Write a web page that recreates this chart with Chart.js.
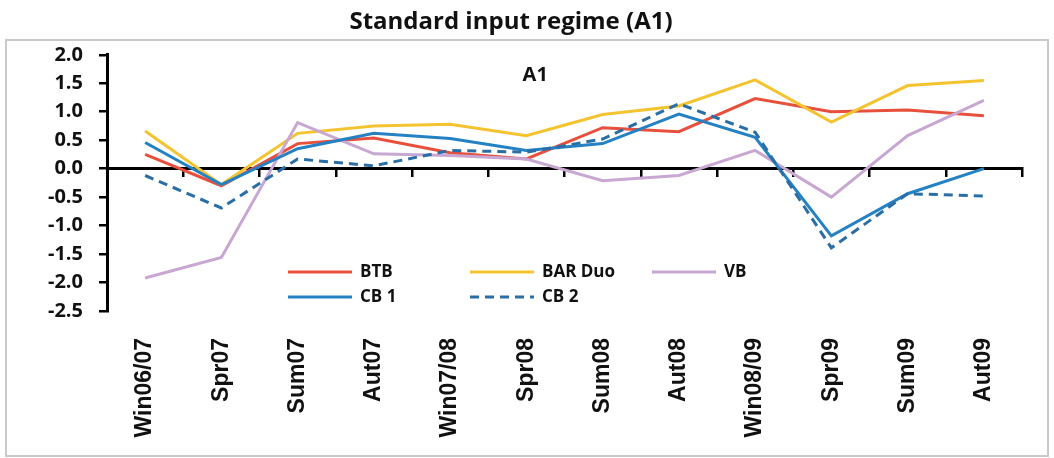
<!DOCTYPE html>
<html>
<head>
<meta charset="utf-8">
<script src="https://cdn.jsdelivr.net/npm/chart.js@4.4.1/dist/chart.umd.min.js"></script>
<style>
  html, body { margin: 0; padding: 0; background: #fff; }
  #wrap { position: relative; width: 1054px; height: 458px; }
  #frame { position: absolute; left: 5px; top: 39px; width: 1040px; height: 414px; border: 2px solid #c9c9c9; }
  canvas { position: absolute; left: 0; top: 0; }
</style>
</head>
<body>
<div id="wrap">
  <div id="frame"></div>
  <canvas id="chart" width="1054" height="458"></canvas>
</div>
<script>
const seasons = ["Win06/07", "Spr07", "Sum07", "Aut07", "Win07/08", "Spr08", "Sum08", "Aut08", "Win08/09", "Spr09", "Sum09", "Aut09"];
const yTicks = [2.0, 1.5, 1.0, 0.5, 0.0, -0.5, -1.0, -1.5, -2.0, -2.5];

const btb    = [0.25, -0.30, 0.44, 0.54, 0.28, 0.17, 0.72, 0.65, 1.23, 1.00, 1.03, 0.93];
const barDuo = [0.66, -0.28, 0.62, 0.75, 0.78, 0.58, 0.95, 1.10, 1.56, 0.82, 1.46, 1.55];
const vb     = [-1.92, -1.56, 0.81, 0.26, 0.23, 0.17, -0.21, -0.12, 0.32, -0.50, 0.58, 1.20];
const cb1    = [0.46, -0.28, 0.35, 0.62, 0.53, 0.32, 0.44, 0.96, 0.55, -1.18, -0.44, 0.0];
const cb2    = [-0.12, -0.69, 0.17, 0.05, 0.32, 0.29, 0.52, 1.14, 0.64, -1.39, -0.44, -0.48];

const insideText = {
  id: "insideText",
  afterDatasetsDraw(chart) {
    const ctx = chart.ctx;
    const a = chart.chartArea;
    ctx.save();
    // panel label
    ctx.font = 'bold 20px "Open Sans"';
    ctx.fillStyle = "#111";
    ctx.textAlign = "center";
    ctx.textBaseline = "middle";
    ctx.fillText("A1", a.left + (a.right - a.left) * 0.468, a.top + 20);
    // legend, 3 per row
    ctx.font = 'bold 17px "Open Sans"';
    ctx.textAlign = "left";
    chart.data.datasets.forEach((ds, i) => {
      const x = 288 + (i % 3) * 182;
      const y = 272 + Math.floor(i / 3) * 25;
      ctx.strokeStyle = ds.borderColor;
      ctx.lineWidth = 3;
      ctx.setLineDash(ds.borderDash || []);
      ctx.beginPath();
      ctx.moveTo(x, y);
      ctx.lineTo(x + 64, y);
      ctx.stroke();
      ctx.setLineDash([]);
      ctx.fillText(ds.label, x + 72, y);
    });
    ctx.restore();
  }
};

function line(label, data, color, order, dash) {
  return {
    label: label,
    data: data,
    borderColor: color,
    backgroundColor: color,
    borderWidth: 3,
    borderDash: dash || [],
    pointRadius: 0,
    tension: 0,
    order: order,
    xAxisID: "x",
    yAxisID: "y"
  };
}

function draw() {
  new Chart(document.getElementById("chart").getContext("2d"), {
    type: "line",
    data: {
      labels: seasons,
      datasets: [
        line("BTB", btb, "#e8503e", 5),
        line("BAR Duo", barDuo, "#f4c430", 4),
        line("VB", vb, "#c8a8d2", 3),
        line("CB 1", cb1, "#2481c3", 2),
        line("CB 2", cb2, "#2a6ea6", 1, [9, 6])
      ]
    },
    options: {
      responsive: false,
      animation: false,
      layout: { padding: { left: 0, right: 32, top: 0, bottom: 0 } },
      plugins: {
        legend: { display: false },
        tooltip: { enabled: false },
        title: {
          display: true,
          text: "Standard input regime (A1)",
          color: "#111",
          font: { family: "Open Sans", size: 24, weight: "bold" },
          padding: { top: 8, bottom: 18 }
        }
      },
      scales: {
        x: {
          type: "category",
          position: { y: 0 },
          offset: true,
          border: { display: true, color: "#000", width: 3 },
          grid: { offset: true, drawOnChartArea: false, drawTicks: true, tickLength: 7, color: "#000", lineWidth: 2.5 },
          ticks: { display: false }
        },
        x2: {
          type: "category",
          axis: "x",
          position: "bottom",
          labels: seasons,
          offset: true,
          border: { display: false },
          grid: { display: false, drawTicks: false },
          ticks: {
            color: "#111",
            font: { family: "Liberation Sans", size: 23, weight: "bold" },
            minRotation: 90,
            maxRotation: 90,
            autoSkip: false,
            padding: 27
          },
          afterFit(scale) { scale.height = 147; }
        },
        y: {
          min: -2.5,
          max: 2.0,
          border: { display: true, color: "#000", width: 3 },
          grid: { drawOnChartArea: false, drawTicks: true, tickLength: 8, color: "#000", lineWidth: 2.5 },
          afterBuildTicks(scale) { scale.ticks = yTicks.map(v => ({ value: v })); },
          ticks: {
            color: "#111",
            padding: 16,
            font: { family: "Open Sans", size: 20, weight: "bold" },
            callback: v => v.toFixed(1)
          },
          afterFit(scale) { scale.width = 107; }
        }
      }
    },
    plugins: [insideText]
  });
}

document.fonts.load('bold 20px "Open Sans"').then(draw, draw);
</script>
</body>
</html>
